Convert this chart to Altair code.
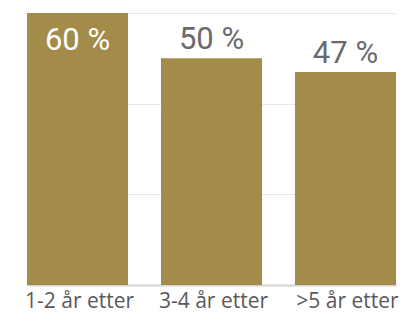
import altair as alt
import pandas as pd

categories = ["1-2 år etter", "3-4 år etter", ">5 år etter"]
values = [60, 50, 47]
labels = ["60 %", "50 %", "47 %"]

df = pd.DataFrame({"cat": categories, "val": values, "lab": labels})

x = alt.X("cat:N", sort=categories, title=None,
          scale=alt.Scale(range=[18, 387], paddingInner=0.246, paddingOuter=0),
          axis=alt.Axis(labelAngle=0, labelFontSize=21, labelFont="Open Sans",
                        labelColor="#595959", labelPadding=22, labelBaseline="alphabetic",
                        labelOffset=2,
                        ticks=False, domainColor="#d4d4d4", domainWidth=2, grid=False))
y = alt.Y("val:Q", title=None, scale=alt.Scale(domain=[0, 60], nice=False),
          axis=alt.Axis(values=[0, 20, 40, 60], labels=False, ticks=False,
                        domain=False, grid=True, gridColor="#e8e8e8", gridWidth=1))

bars = alt.Chart(df).mark_bar(color="#A38B4A").encode(x=x, y=y)

inside = alt.Chart(df).transform_filter(alt.datum.val == 60).mark_text(
    baseline="alphabetic", dy=37, fontSize=31, font="Roboto",
    color="white").encode(x=alt.X("cat:N", sort=categories), y="val:Q", text="lab:N")

outside = alt.Chart(df).transform_filter(alt.datum.val < 60).mark_text(
    baseline="alphabetic", dy=-9, fontSize=31, font="Roboto",
    color="#6a6a6e").encode(x=alt.X("cat:N", sort=categories), y="val:Q", text="lab:N")

chart = alt.layer(bars, inside, outside).properties(
    width=397, height=272,
    autosize=alt.AutoSizeParams(type="none"),
    padding={"left": 1, "top": 5, "right": 0, "bottom": 29}
).configure_view(stroke=None)

chart.save("out.html", embed_options={"renderer": "svg", "actions": False})
